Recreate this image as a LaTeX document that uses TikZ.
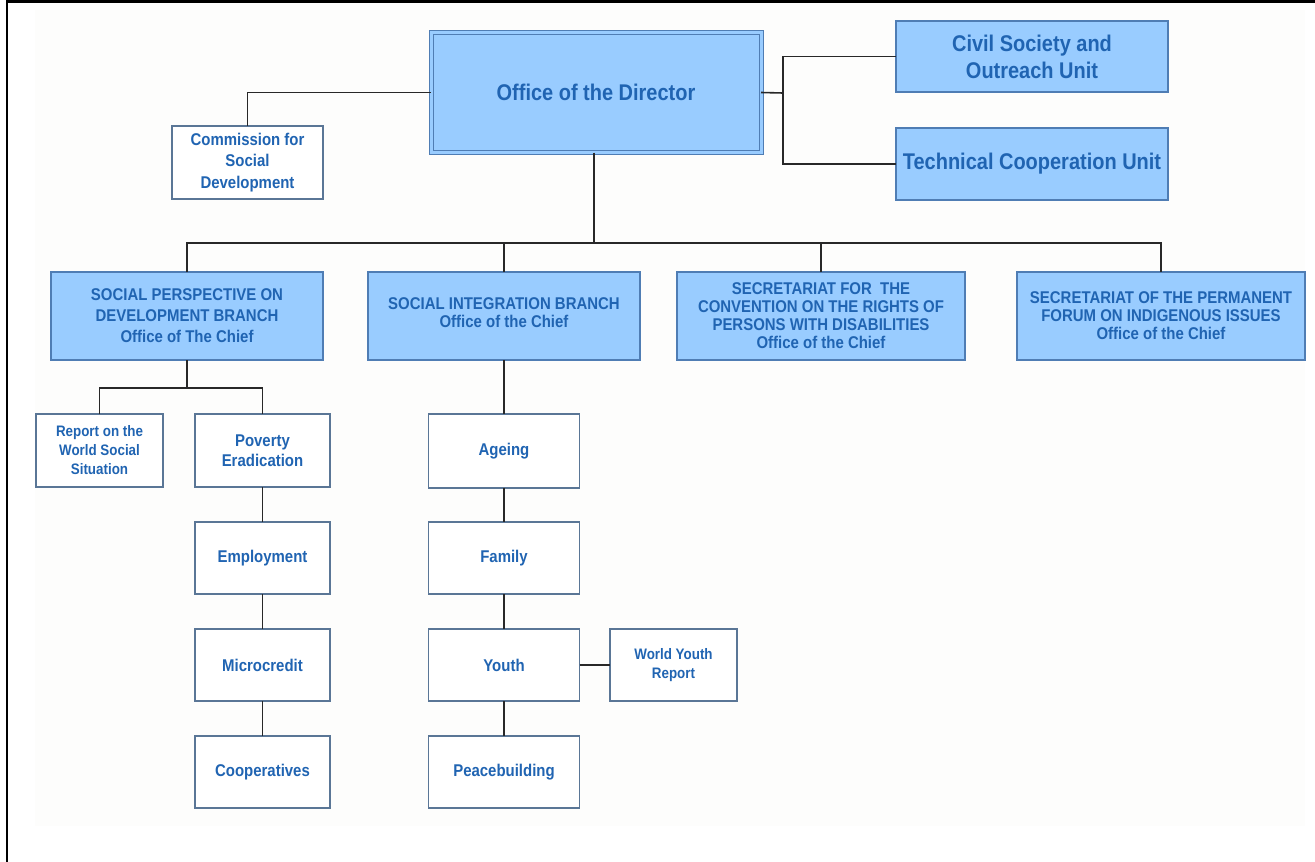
\documentclass[tikz,border=0pt]{standalone}
\usepackage{fontspec}
\setmainfont{Liberation Sans}[FakeStretch=0.88]
\definecolor{bfill}{RGB}{153,204,255}
\definecolor{bborder}{RGB}{79,125,180}
\definecolor{wborder}{RGB}{90,118,150}
\definecolor{tblue}{RGB}{32,100,178}
\definecolor{lcol}{RGB}{40,40,40}
\definecolor{bgfaint}{RGB}{253,253,252}
\begin{document}
\begin{tikzpicture}[x=1pt,y=-1pt,
  base/.style={line width=1.2pt, inner sep=0pt, outer sep=0pt, align=center, text=tblue},
  bluebox/.style={base, draw=bborder, fill=bfill, font=\bfseries\fontsize{17}{18}\selectfont},
  bigbox/.style={base, draw=bborder, fill=bfill, font=\bfseries\fontsize{22.7}{27}\selectfont},
  whitebox/.style={base, draw=wborder, fill=white, font=\bfseries\fontsize{17}{20.5}\selectfont},
  smallbox/.style={base, draw=wborder, fill=white, font=\bfseries\fontsize{15.2}{19}\selectfont},
  conn/.style={draw=lcol, line width=1.6pt}]
\useasboundingbox (0,0) rectangle (1315,862);
\fill[bgfaint] (35,10) rectangle (1305,826);
\draw[line width=2.5pt] (7,862) -- (7,1.25) -- (1315,1.25);

% top level
\node[bigbox, draw=bborder, line width=1pt, double=bfill, double distance=3pt,
      minimum width=330pt, minimum height=120pt] (dir) at (596,92.5) {Office of the Director};
\node[whitebox, minimum width=151pt, minimum height=73pt, font=\bfseries\fontsize{17}{21.5}\selectfont] (csd) at (247.5,162.5) {Commission for\\Social\\Development};
\node[bigbox, minimum width=272pt, minimum height=71pt] (civil) at (1032,56.5) {Civil Society and\\Outreach Unit};
\node[bigbox, minimum width=272pt, minimum height=72pt] (tech) at (1032,164) {Technical Cooperation Unit};

% branches
\node[bluebox, minimum width=272pt, minimum height=88pt, font=\bfseries\fontsize{17}{21}\selectfont] (spd) at (187,316) {SOCIAL PERSPECTIVE ON\\DEVELOPMENT BRANCH\\Office of The Chief};
\node[bluebox, minimum width=272pt, minimum height=88pt] (sib) at (504,316) {SOCIAL INTEGRATION BRANCH\\Office of the Chief\\[-12pt]};
\node[bluebox, minimum width=288pt, minimum height=88pt] (crpd) at (821,316) {SECRETARIAT FOR\ \ THE\\CONVENTION ON THE RIGHTS OF\\PERSONS WITH DISABILITIES\\Office of the Chief};
\node[bluebox, minimum width=288pt, minimum height=88pt] (pfii) at (1161,316) {SECRETARIAT OF THE PERMANENT\\FORUM ON INDIGENOUS ISSUES\\Office of the Chief};

% SPD children
\node[smallbox, minimum width=127pt, minimum height=73pt] (rep) at (99.5,450.5) {Report on the\\World Social\\Situation};
\node[whitebox, minimum width=135pt, minimum height=73pt] (pov) at (262.5,450.5) {Poverty\\Eradication};
\node[whitebox, minimum width=135pt, minimum height=72pt] (emp) at (262.5,558) {Employment};
\node[whitebox, minimum width=135pt, minimum height=72pt] (micro) at (262.5,665) {Microcredit};
\node[whitebox, minimum width=135pt, minimum height=72pt] (coop) at (262.5,772) {Cooperatives};

% SIB children
\node[whitebox, minimum width=151pt, minimum height=74pt] (age) at (504,451) {Ageing};
\node[whitebox, minimum width=151pt, minimum height=72pt] (fam) at (504,558) {Family};
\node[whitebox, minimum width=151pt, minimum height=72pt] (youth) at (504,665) {Youth};
\node[whitebox, minimum width=151pt, minimum height=72pt] (peace) at (504,772) {Peacebuilding};
\node[smallbox, minimum width=127pt, minimum height=72pt] (wyr) at (673.5,665) {World Youth\\Report};

% connectors
\coordinate (rj) at (783,93);
\coordinate (bus) at (594,243);
\coordinate (sj) at (187,388);
\draw[conn] (dir.west) -| (csd.north);
\draw[conn] (dir.east) -- (rj);
\draw[conn] (civil.west) -| (rj) |- (tech.west);
\draw[conn] (dir.south -| bus) -- (bus);
\draw[conn] (spd.north) |- (bus) -| (pfii.north);
\draw[conn] (sib.north) -- (sib.north |- bus);
\draw[conn] (crpd.north) -- (crpd.north |- bus);
\draw[conn] (spd.south) -- (sj);
\draw[conn] (rep.north) |- (sj) -| (pov.north);
\draw[conn] (pov.south) -- (emp.north);
\draw[conn] (emp.south) -- (micro.north);
\draw[conn] (micro.south) -- (coop.north);
\draw[conn] (sib.south) -- (age.north);
\draw[conn] (age.south) -- (fam.north);
\draw[conn] (fam.south) -- (youth.north);
\draw[conn] (youth.south) -- (peace.north);
\draw[conn] (youth.east) -- (wyr.west);
\end{tikzpicture}
\end{document}
